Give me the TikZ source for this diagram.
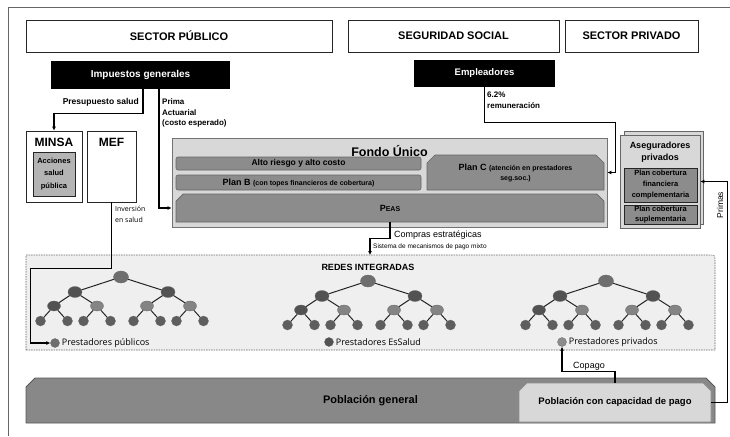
\documentclass[tikz,border=0pt]{standalone}
\usepackage{fontspec}
\setmainfont{Liberation Sans}
\newfontfamily\legfont{Open Sans}
\usetikzlibrary{arrows.meta, shapes.misc, shapes.geometric}

\definecolor{gristenue}{HTML}{EFEFEF}
\definecolor{grisclaro}{HTML}{D8D8D8}
\definecolor{grismedio}{HTML}{B4B4B4}
\definecolor{grisbarra}{HTML}{8C8C8C}
\definecolor{grispob}{HTML}{888888}
\definecolor{nodomedio}{HTML}{6E6E6E}
\definecolor{nodooscuro}{HTML}{525252}
\definecolor{nodoclaro}{HTML}{848484}
\definecolor{nodohoja}{HTML}{5E5E5E}

% arbol binario de prestadores: nombre, x raiz, y raiz
\newcommand{\redtree}[3]{%
    \node[nodo, fill = nodomedio, minimum width = 15pt, minimum height = 12pt] (#1) at (#2, #3) {};
    \foreach \i/\dx/\tonoa in {a/-46/nodooscuro, b/47/nodoclaro} {
        \node[nodo, fill = nodooscuro, minimum width = 14pt, minimum height = 11pt] (#1\i) at (#2+\dx, #3+15) {};
        \draw[rama] (#1) -- (#1\i);
        \foreach \j/\ex/\tono in {a/-21/\tonoa, b/22/nodoclaro} {
            \node[nodo, fill = \tono, minimum width = 13pt, minimum height = 10pt] (#1\i\j) at (#2+\dx+\ex, #3+29) {};
            \draw[rama] (#1\i) -- (#1\i\j);
            \foreach \k/\fx in {a/-13.5, b/13.5} {
                \node[nodo, fill = nodohoja, minimum size = 10pt] (#1\i\j\k) at (#2+\dx+\ex+\fx, #3+44) {};
                \draw[rama] (#1\i\j) -- (#1\i\j\k);
            }
        }
    }%
}

\begin{document}
\begin{tikzpicture}[x = 1pt, y = -1pt,
        cabecera/.style = {draw = black!85, line width = 0.8pt, inner sep = 0pt, minimum height = 32pt, font = \bfseries\fontsize{11}{13}\selectfont},
        fuente/.style = {fill = black, text = white, inner sep = 0pt, font = \bfseries\fontsize{10}{12}\selectfont},
        caja/.style = {draw = black!85, line width = 0.7pt, inner sep = 0pt},
        barra/.style = {draw = black!60, fill = grisbarra, line width = 0.6pt, inner sep = 0pt, rounded corners = 2pt},
        chaflan/.style = {chamfered rectangle, chamfered rectangle corners = {north west, north east}, chamfered rectangle xsep = #1, chamfered rectangle ysep = #1, inner sep = 0pt},
        flecha/.style = {line width = 1.1pt, -{Latex[length = 4pt, width = 4pt]}},
        etiqueta/.style = {inner sep = 0pt, align = left, font = \bfseries\fontsize{8}{10.5}\selectfont},
        nodo/.style = {ellipse, draw = black!60, line width = 0.3pt, inner sep = 0pt},
        rama/.style = {draw = black!85, line width = 1pt},
        punto/.style = {circle, draw = black!60, line width = 0.3pt, inner sep = 0pt, minimum size = 9pt},
        leyenda/.style = {inner sep = 0pt, anchor = west, font = \legfont\fontsize{9}{11}\selectfont}]
    \useasboundingbox (0, 0) rectangle (730, 436);
    \draw[black!60, line width = 0.9pt] (8, 436) -- (8, 7) -- (730, 7);

    % sectores
    \node[cabecera, minimum width = 306pt] (publico) at (179, 36) {SECTOR PÚBLICO};
    \node[cabecera, minimum width = 211pt] (seguridad) at (453.5, 36) {SEGURIDAD SOCIAL};
    \node[cabecera, minimum width = 133pt] (privado) at (631.5, 36) {SECTOR PRIVADO};

    % fuentes de financiamiento
    \node[fuente, minimum width = 179pt, minimum height = 28pt] (imp) at (140.5, 75) {Impuestos generales};
    \node[fuente, minimum width = 141pt, minimum height = 27pt, font = \bfseries\fontsize{9.5}{11}\selectfont] (emp) at (484.5, 73.5) {Empleadores};

    % MINSA y MEF
    \node[caja, minimum width = 56pt, minimum height = 71pt, label = {[anchor = north, yshift = -4pt, font = \bfseries\fontsize{12}{14}\selectfont]north:MINSA}] (minsa) at (54, 166.5) {};
    \node[caja, fill = grismedio, minimum width = 42pt, minimum height = 44pt, align = center, font = \bfseries\fontsize{7.5}{12.5}\selectfont] (acciones) at (54, 174) {Acciones\\salud\\pública};
    \node[caja, minimum width = 49pt, minimum height = 71pt, label = {[anchor = north, yshift = -4pt, font = \bfseries\fontsize{12}{14}\selectfont]north:MEF}] (mef) at (111.5, 166.5) {};

    % Fondo Unico
    \node[draw = black!55, fill = grisclaro, line width = 0.8pt, inner sep = 0pt, minimum width = 435pt, minimum height = 89pt, label = {[anchor = north, yshift = -4pt, font = \bfseries\fontsize{12.5}{14}\selectfont]north:Fondo Único}] (fondo) at (389.5, 182.5) {};
    \node[barra, minimum width = 245pt, minimum height = 13pt, font = \bfseries\fontsize{8.5}{10}\selectfont] (alto) at (298.5, 163.5) {Alto riesgo y alto costo};
    \node[barra, minimum width = 245pt, minimum height = 15pt, font = \bfseries\fontsize{9}{10}\selectfont] (planb) at (298.5, 182.5) {Plan B {\fontsize{7}{8}\selectfont (con topes financieros de cobertura)}};
    \node[chaflan = 4pt, draw = black!60, fill = grisbarra, line width = 0.6pt, minimum width = 177pt, minimum height = 35pt, align = center, font = \bfseries\fontsize{9}{10}\selectfont] (planc) at (515.5, 172.5) {Plan C {\fontsize{7}{8}\selectfont (atención en prestadores}\\{\fontsize{7}{8}\selectfont seg.soc.)}};
    \node[chaflan = 4pt, draw = black!60, fill = grisbarra, line width = 0.6pt, minimum width = 428pt, minimum height = 28pt, font = \bfseries\fontsize{9}{10}\selectfont] (peas) at (390, 208) {P{\fontsize{7}{8}\selectfont EAS}};

    % aseguradores privados
    \draw[black!60, fill = grisclaro, line width = 0.7pt] (624, 131) rectangle (703.5, 224);
    \node[draw = black!60, fill = grisclaro, line width = 0.7pt, inner sep = 0pt, minimum width = 80pt, minimum height = 93pt, label = {[anchor = north, yshift = -4pt, align = center, font = \bfseries\fontsize{9}{12}\selectfont]north:Aseguradores\\privados}] (aseg) at (660, 181.5) {};
    \node[caja, fill = grisbarra, minimum width = 73pt, minimum height = 34pt, align = center, font = \bfseries\fontsize{7.5}{11}\selectfont] (plancf) at (660.5, 185) {Plan cobertura\\financiera\\complementaria};
    \node[caja, fill = grisbarra, minimum width = 73pt, minimum height = 19pt, align = center, font = \bfseries\fontsize{7.5}{9.5}\selectfont] (plansup) at (660.5, 214.5) {Plan cobertura\\suplementaria};

    % redes integradas
    \draw[fill = gristenue, draw = black!60, line width = 0.6pt, dash pattern = on 1.5pt off 1pt] (26, 350) -- (26, 255) -- (709, 255) .. controls (715, 255) .. (715, 261) -- (715, 350) -- cycle;
    \coordinate (redesN) at (370, 255);
    \node[inner sep = 0pt, font = \bfseries\fontsize{9}{11}\selectfont] (redestit) at (368, 267) {REDES INTEGRADAS};
    \redtree{pub}{121}{277}
    \redtree{ess}{368}{281}
    \redtree{pri}{606}{281}
    \node[punto, fill = nodomedio] (dotpub) at (55, 343) {};
    \node[leyenda] (txtpub) at ([xshift = 2pt]dotpub.east) {Prestadores públicos};
    \node[punto, fill = nodooscuro] (dotess) at (329, 342) {};
    \node[leyenda] (txtess) at ([xshift = 2pt]dotess.east) {Prestadores EsSalud};
    \node[punto, fill = grisbarra] (dotpri) at (562, 342) {};
    \node[leyenda] (txtpri) at ([xshift = 2pt]dotpri.east) {Prestadores privados};

    % poblacion
    \node[chaflan = 4.5pt, draw = black!65, fill = grispob, line width = 0.8pt, minimum width = 689pt, minimum height = 45pt, font = \bfseries\fontsize{11}{13}\selectfont] (pobgen) at (370.5, 400.5) {Población general};
    \node[chaflan = 4pt, draw = black!45, fill = grisclaro, line width = 0.6pt, minimum width = 192pt, minimum height = 39pt, font = \bfseries\fontsize{9.5}{11}\selectfont] (pobcap) at (615, 402.5) {Población con capacidad de pago};

    % flujos
    \draw[flecha] ([xshift = 2.5pt]imp.south) -- ++(0, 24) -| (minsa.north);
    \node[etiqueta, anchor = south east, font = \bfseries\fontsize{8.5}{10}\selectfont] (presup) at (139, 106) {Presupuesto salud};
    \draw[flecha] ([xshift = 18.5pt]imp.south) |- (fondo.west |- peas.west);
    \node[etiqueta, anchor = north west] (prima) at (162, 99) {Prima\\Actuarial\\(costo esperado)};
    \draw[flecha] (emp.south) -- ++(0, 35) -| ([xshift = 8pt]fondo.east |- planc.east) -- (fondo.east |- planc.east);
    \node[etiqueta, anchor = north west] (remun) at (487, 92) {6.2\%\\remuneración};
    \draw[flecha] (mef.south) -- ++(0, 66) -| ([xshift = -20pt]dotpub.west) -- (dotpub.west);
    \node[inner sep = 0pt, anchor = north west, align = left, font = \legfont\fontsize{7}{11}\selectfont] (inversion) at (115, 206) {Inversión\\en salud};
    \draw[flecha] (peas.south) -- ++(0, 16) -| (redesN);
    \node[inner sep = 0pt, anchor = west, font = \fontsize{9}{11}\selectfont] (compras) at (394, 235) {Compras estratégicas};
    \node[inner sep = 0pt, anchor = west, font = \fontsize{6.5}{8}\selectfont] (sistema) at (373, 247) {Sistema de mecanismos de pago mixto};
    \draw[flecha] (pobcap.north) -- ++(0, -11) -| (dotpri.south);
    \node[inner sep = 0pt, font = \fontsize{9}{11}\selectfont] (copago) at (589, 366) {Copago};
    \draw[flecha] (pobcap.east) -- ++(16, 0) |- (aseg.east);
    \node[inner sep = 0pt, rotate = 90, font = \fontsize{8.5}{10}\selectfont] (primas) at (720, 205) {Primas};
\end{tikzpicture}
\end{document}
